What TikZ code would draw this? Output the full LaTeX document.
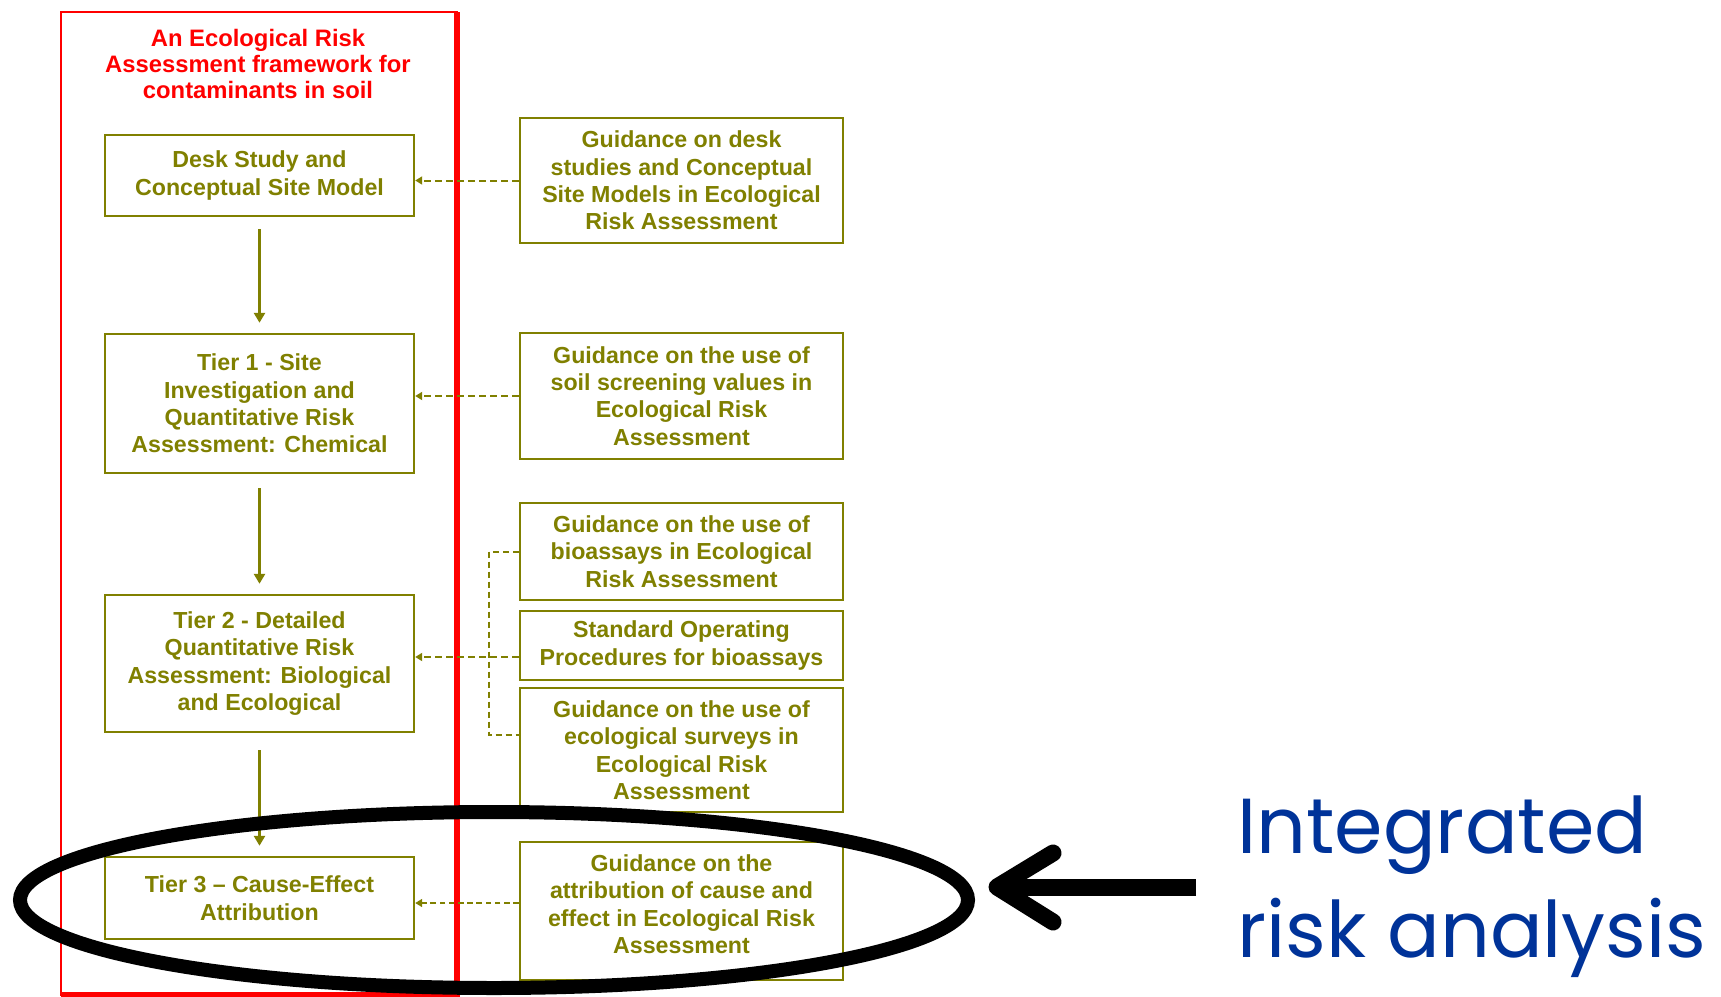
\documentclass[tikz,border=0pt]{standalone}
\usepackage{fontspec}
\setmainfont{Liberation Sans}
\newfontfamily\handfont{Poppins}
\usetikzlibrary{arrows.meta}
\definecolor{olivebox}{RGB}{128,128,0}
\definecolor{framered}{RGB}{255,0,0}
\definecolor{noteblue}{RGB}{0,51,153}

\tikzset{
  stage/.style={draw=olivebox, line width=1.2pt, text=olivebox,
    font=\bfseries\fontsize{11.6}{13.7}\selectfont, align=center,
    minimum width=154.5pt, inner sep=0pt},
  guide/.style={stage, minimum width=161.5pt},
  flow/.style={draw=olivebox, line width=1.5pt,
    -{Triangle[length=5pt,width=5.5pt]}, shorten <=6pt, shorten >=5pt},
  feed/.style={draw=olivebox, line width=1pt, dash pattern=on 3.5pt off 2pt,
    -{Triangle[length=3.5pt,width=4pt]}},
  thinfeed/.style={feed, line width=0.8pt, dash pattern=on 2.8pt off 1.8pt},
  bracket/.style={draw=olivebox, line width=1pt, dash pattern=on 3pt off 2pt},
  heading/.style={text=framered, font=\bfseries\fontsize{11.9}{13}\selectfont,
    align=center, inner sep=0pt},
  note/.style={text=noteblue, font=\handfont\fontsize{39}{52}\selectfont,
    align=left, inner sep=0pt},
}

\begin{document}
\begin{tikzpicture}[x=0.5pt, y=-0.5pt]
\useasboundingbox[fill=white] (0,0) rectangle (1721,997);

% framework container
\draw[framered, line width=1.3pt] (61,12) rectangle (457,995);
\draw[framered, line width=2.6pt] (457,12) -- (457,995) -- (61,995);
\node[heading] (title) at (258,64)
  {An Ecological Risk\\Assessment framework for\\contaminants in soil};

% framework stages
\node[stage, minimum height=40.5pt] (desk) at (259.5,175.5)
  {Desk Study and\\Conceptual Site Model};
\node[stage, minimum height=69.5pt] (t1) at (259.5,403.5)
  {Tier 1 - Site\\Investigation and\\Quantitative Risk\\Assessment: Chemical};
\node[stage, minimum height=68.5pt] (t2) at (259.5,663.5)
  {Tier 2 - Detailed\\Quantitative Risk\\Assessment: Biological\\and Ecological};
\node[stage, minimum height=41pt] (t3) at (259.5,898)
  {Tier 3 -- Cause-Effect\\Attribution};

\draw[flow] (desk.south) -- (t1.north);
\draw[flow, shorten <=7pt] (t1.south) -- (t2.north);
\draw[flow, shorten <=8.5pt] (t2.south) -- (t3.north);

% guidance documents
\node[guide, minimum height=62.5pt] (g1) at (681.5,180.5)
  {Guidance on desk\\studies and Conceptual\\Site Models in Ecological\\Risk Assessment};
\node[guide, minimum height=63pt] (g2) at (681.5,396)
  {Guidance on the use of\\soil screening values in\\Ecological Risk\\Assessment};
\node[guide, minimum height=48.5pt] (g3) at (681.5,551.5)
  {Guidance on the use of\\bioassays in Ecological\\Risk Assessment};
\node[guide, minimum height=34.5pt] (sop) at (681.5,645.5)
  {Standard Operating\\Procedures for bioassays};
\node[guide, minimum height=62pt] (g4) at (681.5,750)
  {Guidance on the use of\\ecological surveys in\\Ecological Risk\\Assessment};
\node[guide, minimum height=69pt] (g5) at (681.5,911) {};
\node[stage, draw=none, minimum width=0pt] (g5text) at (681.5,904)
  {Guidance on the\\attribution of cause and\\effect in Ecological Risk\\Assessment};

% guidance feeding into the stages
\coordinate (mid) at (489,657);
\coordinate (brtop) at (489,551.5);
\coordinate (brbot) at (489,735);
\coordinate (low) at (0,903);

\draw[feed] (g1.west) -- (g1.west -| desk.east);
\draw[feed] (g2.west) -- (g2.west -| t1.east);
\draw[bracket] (g3.west) -- (brtop) -- (brbot) -- (brbot -| g4.west);
\draw[feed] (sop.west |- mid) -- (t2.east |- mid);
\draw[thinfeed] (g5.west |- low) -- (t3.east |- low);

% highlight
\draw[black, line width=7pt] (494,900) ellipse [x radius=237pt, y radius=44pt];

\coordinate (tail) at (1196,887);
\coordinate (tip) at (997,887);
\coordinate (wingup) at (1053,853);
\coordinate (wingdown) at (1053,922);
\draw[black, line width=8.5pt] (tail) -- (tip);
\draw[black, line width=8.5pt, line cap=round, line join=round]
  (wingup) -- (tip) -- (wingdown);

\node[note, anchor=base west] (label) at (1237,957) {Integrated\\risk analysis};
\end{tikzpicture}
\end{document}
